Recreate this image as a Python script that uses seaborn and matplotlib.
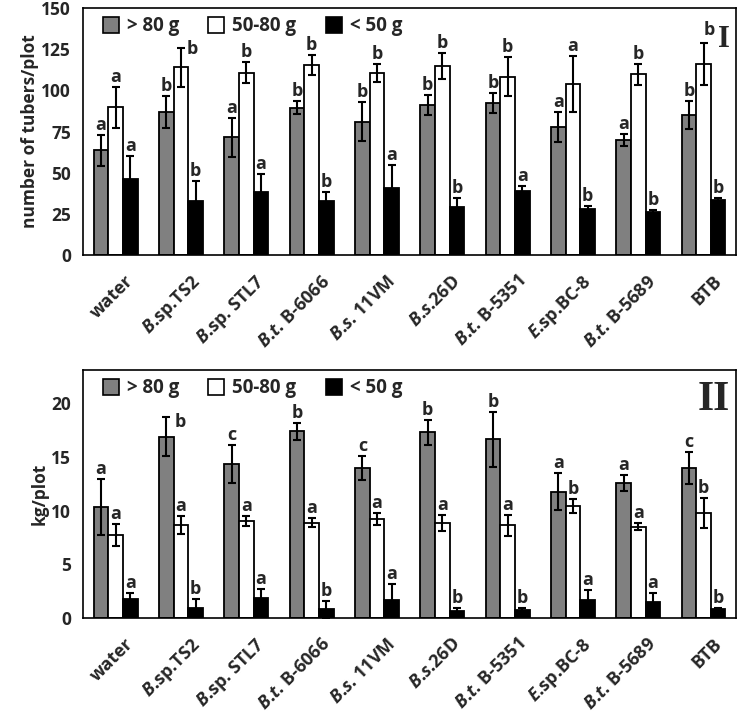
import numpy as np
import pandas as pd
import matplotlib
matplotlib.use("Agg")
import matplotlib.pyplot as plt
import seaborn as sns
from matplotlib.lines import Line2D
import matplotlib.transforms as mtrans

sns.set_style("white")
FONT = "Open Sans"
plt.rcParams['font.family'] = [FONT, 'DejaVu Sans']
plt.rcParams['font.weight'] = 'bold'
plt.rcParams['mathtext.fontset'] = 'custom'
plt.rcParams['mathtext.rm'] = FONT + ':bold'
plt.rcParams['mathtext.bf'] = FONT + ':bold'
plt.rcParams['mathtext.it'] = FONT + ':italic:bold'

categories = ["water", "B.sp.TS2", "B.sp.STL7", "B.t.B-6066", "B.s.11VM",
              "B.s.26D", "B.t.B-5351", "E.sp.BC-8", "B.t.B-5689", "BTB"]
tick_labels = ["water", r"$\mathit{B}$.sp.TS2", r"$\mathit{B}$.sp. STL7",
               r"$\mathit{B}$.$\mathit{t}$. B-6066", r"$\mathit{B}$.$\mathit{s}$. 11VM",
               r"$\mathit{B}$.$\mathit{s}$.26D", r"$\mathit{B}$.$\mathit{t}$. B-5351",
               r"$\mathit{E}$.sp.BC-8", r"$\mathit{B}$.$\mathit{t}$. B-5689", "BTB"]
classes = ["> 80 g", "50-80 g", "< 50 g"]
colors = ["#808080", "#ffffff", "#000000"]

# Panel I: number of tubers/plot
n_big = [63.6, 86.8, 71.5, 89.4, 81.1, 90.9, 92.5, 77.8, 69.7, 85.0]
n_big_err = [9.5, 9.7, 11.8, 4.0, 12.0, 6.0, 6.0, 9.2, 3.7, 8.3]
n_mid = [89.8, 114.0, 110.8, 115.4, 110.4, 114.8, 108.3, 103.7, 109.8, 115.9]
n_mid_err = [12.5, 11.8, 6.3, 6.0, 5.6, 8.0, 12.0, 17.0, 6.3, 12.6]
n_small = [46.0, 33.0, 38.4, 33.0, 40.7, 29.3, 39.0, 27.8, 26.0, 33.3]
n_small_err = [14.0, 12.0, 10.6, 5.6, 14.0, 5.5, 3.0, 2.0, 1.2, 1.7]
n_big_let = ["a", "b", "a", "b", "b", "b", "b", "a", "a", "b"]
n_mid_let = ["a", "b", "b", "b", "b", "b", "b", "a", "b", "b"]
n_small_let = ["a", "b", "a", "b", "a", "b", "a", "b", "b", "b"]

# Panel II: kg/plot
w_big = [10.36, 16.9, 14.34, 17.4, 13.97, 17.3, 16.64, 11.76, 12.57, 14.0]
w_big_err = [2.6, 1.8, 1.77, 0.8, 1.15, 1.15, 2.55, 1.7, 0.78, 1.5]
w_mid = [7.73, 8.69, 9.03, 8.88, 9.19, 8.85, 8.63, 10.43, 8.5, 9.78]
w_mid_err = [1.0, 0.84, 0.47, 0.43, 0.56, 0.75, 1.0, 0.62, 0.35, 1.37]
w_small = [1.74, 0.96, 1.86, 0.81, 1.68, 0.68, 0.71, 1.68, 1.46, 0.81]
w_small_err = [0.56, 0.84, 0.87, 0.8, 1.5, 0.22, 0.22, 0.93, 0.84, 0.12]
w_big_let = ["a", "b", "c", "b", "c", "b", "b", "a", "a", "c"]
w_mid_let = ["a", "a", "a", "a", "a", "a", "a", "b", "a", "b"]
w_small_let = ["a", "b", "a", "b", "a", "b", "b", "a", "a", "b"]

# letter nudges (pixels) keyed by (class index, category index) -- styling only
nudge_top = {(1, 1): (11, -10), (1, 9): (6, 4)}
nudge_bottom = {(0, 1): (14, -14)}


def make_df(vals):
    rows = []
    for cls, v in zip(classes, vals):
        for c, x in zip(categories, v):
            rows.append({"strain": c, "cls": cls, "value": x})
    return pd.DataFrame(rows)


def draw(ax, vals, errs, lets, ylim, yticks, ylabel, panel, psize, py, nudge):
    df = make_df(vals)
    sns.barplot(data=df, x="strain", y="value", hue="cls", order=categories,
                hue_order=classes, palette=colors, edgecolor="black", linewidth=1.3,
                width=0.67, gap=0, errorbar=None, legend=False, ax=ax, saturation=1)
    for ci, (cont, e, l) in enumerate(zip(ax.containers, errs, lets)):
        xs = [b.get_x() + b.get_width() / 2 for b in cont]
        hs = [b.get_height() for b in cont]
        ax.errorbar(xs, hs, yerr=e, fmt="none", ecolor="black", elinewidth=1.5,
                    capsize=3, capthick=1.5)
        for k, (x, h, ee, t) in enumerate(zip(xs, hs, e, l)):
            dx, dy = nudge.get((ci, k), (0, 1))
            ax.annotate(t, (x, h + ee), xytext=(dx, dy), textcoords="offset pixels",
                        ha="center", va="bottom", fontsize=13, fontweight="bold")
    ax.set_xlim(-0.5, len(categories) - 0.5)
    ax.set_ylim(*ylim)
    ax.set_yticks(yticks)
    ax.set_xticks(range(len(categories)))
    ax.set_xticklabels(tick_labels, rotation=45, ha="right", va="top",
                       rotation_mode="anchor", fontsize=13, fontweight="bold")
    ax.set_xticks(np.arange(-0.5, len(categories), 1), minor=True)
    ax.tick_params(axis="x", which="major", length=0, pad=12)
    ax.tick_params(axis="x", which="minor", length=6, width=1, direction="out", color="black")
    ax.tick_params(axis="y", length=5, width=1, direction="out", color="black", labelsize=12.5)
    for lab in ax.get_yticklabels():
        lab.set_fontweight("bold")
    for lab in ax.get_xticklabels():
        lab.set_transform(lab.get_transform() + mtrans.ScaledTranslation(9/100, 0, ax.figure.dpi_scale_trans))
    ax.set_xlabel("")
    ax.set_ylabel(ylabel, fontsize=12.5, fontweight="bold", labelpad=2)
    for s in ax.spines.values():
        s.set_color("black")
        s.set_linewidth(1.2)
    handles = [Line2D([0], [0], marker="s", linestyle="none", markersize=12,
                      markerfacecolor=c, markeredgecolor="black", markeredgewidth=1.2)
               for c in colors]
    ax.legend(handles, classes, loc="upper left", ncol=3, frameon=False,
              prop={"weight": "bold", "size": 13.5}, handletextpad=0.35,
              columnspacing=1.5, borderaxespad=0.05, bbox_to_anchor=(0.015, 1.0),
              handlelength=1.0)
    ax.text(0.99, py, panel, transform=ax.transAxes, ha="right", va="top",
            fontsize=psize, fontweight="bold", family="Liberation Serif")


fig = plt.figure(figsize=(7.39, 7.19), dpi=100)
ax1 = fig.add_axes([0.1123, 0.645, 0.884, 0.344])
ax2 = fig.add_axes([0.1123, 0.1405, 0.884, 0.345])

draw(ax1, [n_big, n_mid, n_small], [n_big_err, n_mid_err, n_small_err],
     [n_big_let, n_mid_let, n_small_let], (0, 150), [0, 25, 50, 75, 100, 125, 150],
     "number of tubers/plot", "I", 22, 0.93, nudge_top)
draw(ax2, [w_big, w_mid, w_small], [w_big_err, w_mid_err, w_small_err],
     [w_big_let, w_mid_let, w_small_let], (0, 23.1), [0, 5, 10, 15, 20],
     "kg/plot", "II", 30, 0.955, nudge_bottom)

fig.savefig("out.png", dpi=100)
